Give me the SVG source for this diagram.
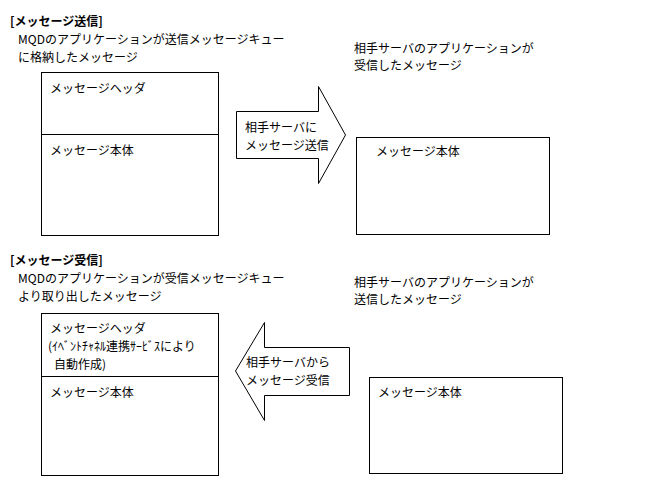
<svg xmlns="http://www.w3.org/2000/svg" width="645" height="484" viewBox="0 0 645 484">
<style>
text{font-family:"Noto Sans CJK JP","DejaVu Sans",sans-serif;font-size:12px;fill:#000}
.b{font-weight:bold}
.s{fill:#fff;stroke:#000;stroke-width:1}
</style>
<rect width="645" height="484" fill="#fff"/>
<text class="b" x="10" y="26">[メッセージ送信]</text>
<text x="18" y="44">MQDのアプリケーションが送信メッセージキュー</text>
<text x="18" y="62">に格納したメッセージ</text>
<text x="354" y="53">相手サーバのアプリケーションが</text>
<text x="354" y="70">受信したメッセージ</text>
<g id="sendMsg"><rect class="s" x="41.5" y="72.5" width="177" height="163"/><line x1="41.5" y1="134.5" x2="218.5" y2="134.5" stroke="#000"/>
<text x="50" y="93">メッセージヘッダ</text><text x="50" y="155">メッセージ本体</text></g>
<g id="connectors">
<path class="s" d="M236.5 111.5H318.5V86.5L345.5 135L318.5 183.5V158.5H236.5Z"/>
<path class="s" d="M235.5 371L264.5 322.5V347.5H349.5V395.5H264.5V420.5Z"/>
</g>
<text x="245" y="132">相手サーバに</text><text x="245" y="150">メッセージ送信</text>
<g id="recvMsg"><rect class="s" x="356.5" y="137.5" width="193" height="97"/><text x="376" y="156">メッセージ本体</text></g>
<text class="b" x="10" y="265">[メッセージ受信]</text>
<text x="18" y="283">MQDのアプリケーションが受信メッセージキュー</text>
<text x="18" y="301">より取り出したメッセージ</text>
<text x="354" y="287">相手サーバのアプリケーションが</text>
<text x="354" y="304">送信したメッセージ</text>
<g id="recvBox"><rect class="s" x="41.5" y="313.5" width="177" height="162"/><line x1="41.5" y1="376.5" x2="218.5" y2="376.5" stroke="#000"/>
<text x="50" y="333">メッセージヘッダ</text><text x="48" y="351">(ｲﾍﾞﾝﾄﾁｬﾈﾙ連携ｻｰﾋﾞｽにより</text><text x="54" y="369">自動作成)</text>
<text x="50" y="397">メッセージ本体</text></g>
<text x="246" y="367">相手サーバから</text><text x="246" y="385">メッセージ受信</text>
<g id="sendBox"><rect class="s" x="369.5" y="377.5" width="193" height="96"/><text x="378" y="397">メッセージ本体</text></g>
</svg>
